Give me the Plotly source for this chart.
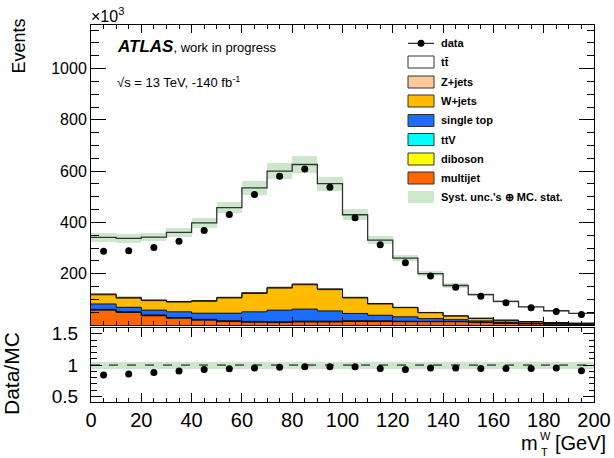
import plotly.graph_objects as go

# ---------------- data ----------------
bin_edges = [0, 10, 20, 30, 40, 50, 60, 70, 80, 90, 100, 110, 120, 130, 140, 150, 160, 170, 180, 190, 200]
bin_centers = [5, 15, 25, 35, 45, 55, 65, 75, 85, 95, 105, 115, 125, 135, 145, 155, 165, 175, 185, 195]

data = [288, 290, 302, 327, 369, 431, 509, 580, 608, 537, 418, 313, 243, 191, 147, 112, 87, 67, 53, 41]
ttbar = [221, 230, 245.5, 269, 303, 350, 409, 453, 466, 410, 322, 247, 192, 151, 118, 92, 73, 57.5, 46, 38]
zjets = [3, 3, 2.5, 2.5, 2.5, 2.5, 3, 3, 3, 3, 2.5, 2, 1.5, 1.2, 1, 0.8, 0.6, 0.5, 0.4, 0.3]
wjets = [36, 36, 37, 38, 46.5, 59.5, 71.5, 86, 95, 83, 60.5, 44, 35.5, 22.8, 14, 9.7, 7.4, 5, 3.2, 2.2]
single_top = [21, 17, 19, 22, 24, 29.5, 37.5, 45.4, 47, 40, 28.6, 22, 17.4, 10.8, 7, 5.2, 3.4, 2.6, 1.6, 1.3]
ttv = [1.5, 1.5, 1.5, 1.5, 1.5, 1.5, 1.5, 1.5, 1.5, 1.5, 1.2, 1, 0.8, 0.6, 0.5, 0.4, 0.3, 0.2, 0.2, 0.1]
diboson = [1.5, 1.5, 1.5, 1.5, 1.5, 1.5, 1.5, 1.5, 1.5, 1.5, 1.2, 1, 0.8, 0.6, 0.5, 0.4, 0.3, 0.2, 0.2, 0.1]
multijet = [58, 49, 36, 26.5, 19, 13.5, 11, 9.6, 12, 12, 14, 14, 13, 13, 13, 10, 7, 5, 4, 3]
syst_unc = [17, 17, 17, 18, 20, 23, 27, 30, 32, 28, 22, 17, 13, 10, 8, 6, 5, 4, 3, 2.5]

y_ticks_main = [200, 400, 600, 800, 1000]
y_ticks_ratio = [0.5, 1, 1.5]

# stack order from bottom to top
stack_names = ["multijet", "diboson", "ttV", "single top", "W+jets", "Z+jets", "tt\u0304"]
stack_values = [multijet, diboson, ttv, single_top, wjets, zjets, ttbar]
stack_colors = ["#ff6600", "#ffff00", "#00ffff", "#1a6dff", "#ffbb00", "#ffc99c", "#ffffff"]

# cumulative sums
cumul = []
run = [0.0] * len(bin_centers)
for vals in stack_values:
    run = [a + b for a, b in zip(run, vals)]
    cumul.append(run)
total = cumul[-1]

ratio = [d / t for d, t in zip(data, total)]
rel_unc = [u / t for u, t in zip(syst_unc, total)]

# ---------------- layout geometry (pixels) ----------------
W_FIG, H_FIG = 614, 458
L, R, T, B = 91, 594, 25, 402
PW, PH = R - L, B - T


def px(x):
    return (x - L) / PW


def py(y):
    return (B - y) / PH


main_lo = py(325)
ratio_hi = py(327.5)

FONT = "Liberation Sans, Arial, Helvetica, sans-serif"
band_color = "rgba(110,185,110,0.35)"

fig = go.Figure()

# stacked histograms (drawn as overlapping cumulative bars, top first)
for i in range(len(stack_values) - 1, -1, -1):
    fig.add_trace(go.Bar(
        x=bin_centers, y=cumul[i], width=10,
        marker=dict(color=stack_colors[i], line=dict(width=0)),
        xaxis="x", yaxis="y", showlegend=False, hoverinfo="skip"))

# outlines of each stacked component (step lines)
for i in range(len(stack_values)):
    yy = cumul[i] + [cumul[i][-1]]
    last = i == len(stack_values) - 1
    fig.add_trace(go.Scatter(
        x=bin_edges, y=yy, mode="lines",
        line=dict(shape="hv", color="#333333" if last else "#111111", width=1.3 if last else 1),
        xaxis="x", yaxis="y", showlegend=False, hoverinfo="skip"))

# uncertainty band (main)
fig.add_trace(go.Bar(
    x=bin_centers, y=[2 * u for u in syst_unc], base=[t - u for t, u in zip(total, syst_unc)], width=10,
    marker=dict(color=band_color, line=dict(width=0)),
    xaxis="x", yaxis="y", showlegend=False, hoverinfo="skip"))

# data points
fig.add_trace(go.Scatter(
    x=bin_centers, y=data, mode="markers", marker=dict(color="black", size=7),
    xaxis="x", yaxis="y", showlegend=False))

# ratio band
fig.add_trace(go.Bar(
    x=bin_centers, y=[2 * r for r in rel_unc], base=[1 - r for r in rel_unc], width=10,
    marker=dict(color=band_color, line=dict(width=0)),
    xaxis="x2", yaxis="y2", showlegend=False, hoverinfo="skip"))

# ratio points
fig.add_trace(go.Scatter(
    x=bin_centers, y=ratio, mode="markers", marker=dict(color="black", size=7),
    xaxis="x2", yaxis="y2", showlegend=False))

shapes = []
# dashed line at 1 in ratio
shapes.append(dict(type="line", xref="x2 domain", yref="y2", x0=0, x1=1, y0=1, y1=1,
                   line=dict(color="black", width=1, dash="dash"), layer="above"))

annotations = []

# ---------------- legend (drawn by hand, ROOT style) ----------------
LEG_X0, LEG_X1, LEG_TX = 408, 434, 439
leg_font = dict(family=FONT, size=11, color="black")
# data entry
shapes.append(dict(type="line", xref="paper", yref="paper", x0=px(LEG_X0), x1=px(LEG_X1),
                   y0=py(43.3), y1=py(43.3), line=dict(color="black", width=1)))
shapes.append(dict(type="circle", xref="paper", yref="paper", xsizemode="pixel", ysizemode="pixel",
                   xanchor=px(421), yanchor=py(43.3), x0=-3.5, x1=3.5, y0=-3.5, y1=3.5,
                   fillcolor="black", line=dict(color="black", width=0)))
annotations.append(dict(xref="paper", yref="paper", x=px(LEG_TX), y=py(43.3), xanchor="left",
                        yanchor="middle", text="<b>data</b>", showarrow=False, font=leg_font))

legend_order = ["tt\u0304", "Z+jets", "W+jets", "single top", "ttV", "diboson", "multijet"]
legend_rows = [62, 82, 101, 120.5, 139.5, 159, 178]
for name, yc in zip(legend_order, legend_rows):
    col = stack_colors[stack_names.index(name)]
    shapes.append(dict(type="rect", xref="paper", yref="paper", x0=px(LEG_X0), x1=px(LEG_X1),
                       y0=py(yc + 6), y1=py(yc - 6), fillcolor=col, line=dict(color="#333333", width=1)))
    annotations.append(dict(xref="paper", yref="paper", x=px(LEG_TX), y=py(yc), xanchor="left",
                            yanchor="middle", text="<b>%s</b>" % name, showarrow=False, font=leg_font))
shapes.append(dict(type="rect", xref="paper", yref="paper", x0=px(LEG_X0), x1=px(LEG_X1),
                   y0=py(203), y1=py(191), fillcolor=band_color, line=dict(width=0)))
annotations.append(dict(xref="paper", yref="paper", x=px(LEG_TX), y=py(197), xanchor="left",
                        yanchor="middle", text="<b>Syst. unc.'s \u2295 MC. stat.</b>", showarrow=False,
                        font=leg_font))

# ---------------- texts ----------------
annotations.append(dict(xref="paper", yref="paper", x=px(89), y=py(15), xanchor="left", yanchor="middle",
                        text="\u00d710<sup>3</sup>", showarrow=False, font=dict(family=FONT, size=16)))
annotations.append(dict(xref="paper", yref="paper", x=px(115), y=py(47), xanchor="left", yanchor="middle",
                        text="<b><i>ATLAS</i></b><span style='font-size:13px'>, work in progress</span>",
                        showarrow=False, font=dict(family=FONT, size=17)))
annotations.append(dict(xref="paper", yref="paper", x=px(115), y=py(82), xanchor="left", yanchor="middle",
                        text="\u221as = 13 TeV, -140 fb<sup>-1</sup>", showarrow=False,
                        font=dict(family=FONT, size=13)))
annotations.append(dict(xref="paper", yref="paper", x=px(18), y=py(17), xanchor="center", yanchor="top",
                        text="Events", textangle=-90, showarrow=False, font=dict(family=FONT, size=18)))
annotations.append(dict(xref="paper", yref="paper", x=px(11), y=py(374), xanchor="center", yanchor="middle",
                        text="Data/MC", textangle=-90, showarrow=False, font=dict(family=FONT, size=21)))
# x-axis title  m_T^W [GeV]
annotations.append(dict(xref="paper", yref="paper", x=px(608), y=py(443), xanchor="right", yanchor="middle",
                        text="[GeV]", showarrow=False, font=dict(family=FONT, size=20)))
annotations.append(dict(xref="paper", yref="paper", x=px(519), y=py(443), xanchor="left", yanchor="middle",
                        text="m", showarrow=False, font=dict(family=FONT, size=20)))
annotations.append(dict(xref="paper", yref="paper", x=px(538), y=py(436), xanchor="left", yanchor="middle",
                        text="W", showarrow=False, font=dict(family=FONT, size=11)))
annotations.append(dict(xref="paper", yref="paper", x=px(539), y=py(452), xanchor="left", yanchor="middle",
                        text="T", showarrow=False, font=dict(family=FONT, size=11)))

axis_common = dict(showgrid=False, zeroline=False, showline=True, linecolor="black", linewidth=1,
                   mirror="allticks", ticks="inside", tickcolor="black", tickwidth=1)

fig.update_layout(
    width=W_FIG, height=H_FIG, autosize=False,
    margin=dict(l=L, r=W_FIG - R, t=T, b=H_FIG - B, pad=0),
    paper_bgcolor="white", plot_bgcolor="white",
    barmode="overlay", bargap=0,
    font=dict(family=FONT, color="black"),
    showlegend=False,
    shapes=shapes, annotations=annotations,
    xaxis=dict(axis_common, domain=[0, 1], range=[0, 200], anchor="y", matches="x2",
               tick0=0, dtick=20, ticklen=8, showticklabels=False, automargin=False,
               minor=dict(dtick=5, tick0=0, ticklen=4, ticks="inside", tickcolor="black")),
    yaxis=dict(axis_common, domain=[main_lo, 1], range=[0, 1170], anchor="x", automargin=False,
               tickmode="array", tickvals=y_ticks_main, ticklen=15, tickfont=dict(size=16),
               minor=dict(tickmode="linear", dtick=50, tick0=0, ticklen=7.5, ticks="inside", tickcolor="black")),
    xaxis2=dict(axis_common, domain=[0, 1], range=[0, 200], anchor="y2", automargin=False,
                tick0=0, dtick=20, ticklen=9, tickfont=dict(size=20),
                minor=dict(dtick=5, tick0=0, ticklen=4.5, ticks="inside", tickcolor="black")),
    yaxis2=dict(axis_common, domain=[0, ratio_hi], range=[0.41, 1.6], anchor="x2", automargin=False,
                tickmode="array", tickvals=y_ticks_ratio, ticktext=["0.5", "1", "1.5"], ticklen=11,
                tickfont=dict(size=19), ticklabelstandoff=8,
                minor=dict(tickmode="linear", dtick=0.1, tick0=0, ticklen=5.5, ticks="inside", tickcolor="black")),
)

fig.write_html("out.html", config={"displayModeBar": False},
               post_script="document.documentElement.style.overflow='hidden';"
                           "document.body.style.overflow='hidden';"
                           "document.body.style.margin='0';document.body.style.padding='0';")
